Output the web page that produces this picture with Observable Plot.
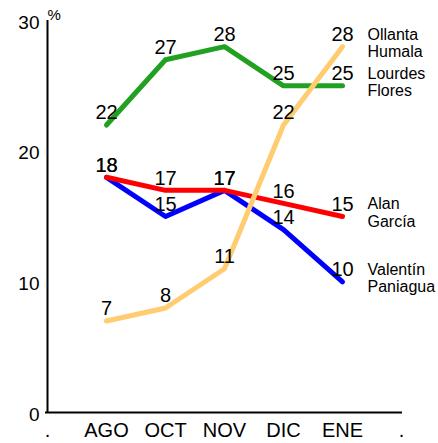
<!DOCTYPE html>
<html><head><meta charset="utf-8">
<script src="https://cdn.jsdelivr.net/npm/d3@7"></script>
<script src="https://cdn.jsdelivr.net/npm/@observablehq/plot@0.6"></script>
<style>body{margin:0;background:#fff}</style>
</head><body><div id="chart"></div>
<script>
const months = ["AGO","OCT","NOV","DIC","ENE"];
const xDomain = ["start", ...months, "end"];
const yTicks = [0, 10, 20, 30];
const seriesNames = ["Valentín\nPaniagua", "Alan\nGarcía", "Lourdes\nFlores", "Ollanta\nHumala"];
const seriesColors = ["#0000ff", "#ff0000", "#22a022", "#ffcc70"];
const paniagua = [18, 15, 17, 14, 10];
const garcia = [18, 17, 17, 16, 15];
const flores = [22, 27, 28, 25, 25];
const humala = [7, 8, 11, 22, 28];
const seriesValues = [paniagua, garcia, flores, humala];

const rows = seriesValues.flatMap((vals, i) =>
  vals.map((v, j) => ({serie: seriesNames[i], month: months[j], value: v})));
const last = rows.filter(d => d.month === months[months.length - 1]);

const font = "'Liberation Sans', Arial, Helvetica, sans-serif";

const chart = Plot.plot({
  width: 438,
  height: 443,
  marginLeft: 45,
  marginRight: 36,
  marginTop: 20,
  marginBottom: 31,
  style: {fontFamily: font, fontSize: "18px", color: "#000", background: "#fff"},
  x: {type: "point", domain: xDomain, padding: 0},
  y: {domain: [0, 30]},
  color: {domain: seriesNames, range: seriesColors},
  marks: [
    Plot.axisY({ticks: yTicks, tickSize: 0, tickPadding: 6, dy: 2, label: null, fontSize: 19}),
    Plot.axisX({tickSize: 0, tickPadding: 10, label: null, fontSize: 20,
      tickFormat: d => months.includes(d) ? d : "."}),
    Plot.ruleY([0], {stroke: "#000", strokeWidth: 2}),
    Plot.ruleX([xDomain[0]], {y1: 0, y2: 30, stroke: "#000", strokeWidth: 2}),
    Plot.text(["%"], {frameAnchor: "top-left", textAnchor: "start", dx: 2, dy: -11, fontSize: 15}),
    Plot.line(rows, {x: "month", y: "value", z: "serie", stroke: "serie",
      strokeWidth: 5, strokeLinecap: "round", strokeLinejoin: "round"}),
    Plot.text(rows, {x: "month", y: "value", text: d => String(d.value),
      dy: -12, fontSize: 20, fill: "#000"}),
    Plot.text(last, {x: "month", y: "value", text: "serie", textAnchor: "start",
      dx: 25, dy: -4, fontSize: 16, lineHeight: 1.08, fill: "#000"})
  ]
});
document.getElementById("chart").appendChild(chart);
</script>
</body></html>
